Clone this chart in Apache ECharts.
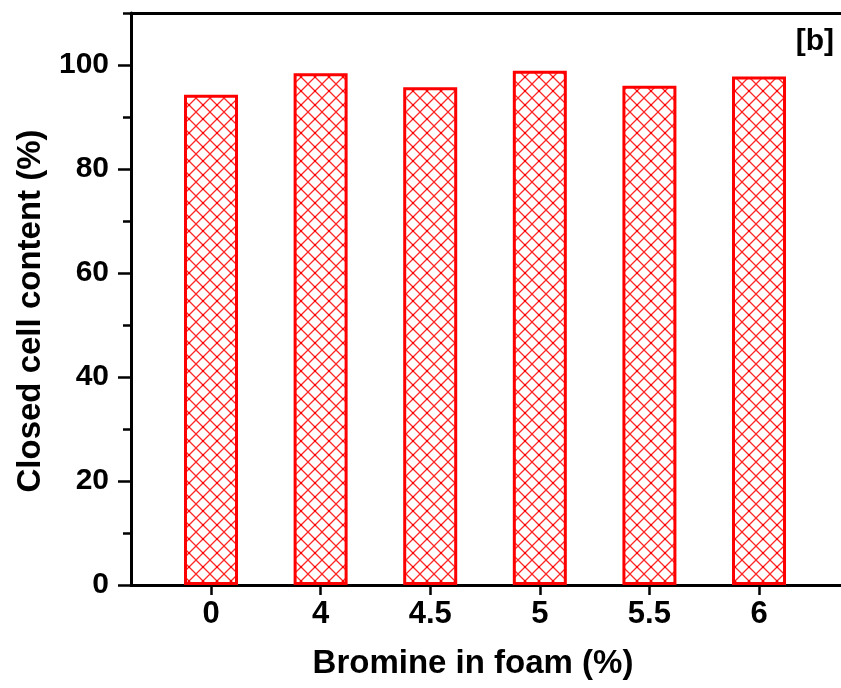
<!DOCTYPE html>
<html>
<head>
<meta charset="utf-8">
<script src="https://cdn.jsdelivr.net/npm/echarts@6/dist/echarts.min.js"></script>
<style>
  html, body { margin: 0; padding: 0; background: #fff; }
  #chart { width: 841px; height: 688px; }
</style>
</head>
<body>
<div id="chart"></div>
<script>
// Closed cell content of foams vs. bromine loading
const categories = ['0', '4', '4.5', '5', '5.5', '6'];
const closedCell = [94.3, 98.4, 95.7, 98.9, 96.0, 97.8];
const yMajorTicks = [0, 20, 40, 60, 80, 100];
const yMinorTicks = [10, 30, 50, 70, 90, 110];

const FONT = '"Liberation Sans", Arial, sans-serif';

// Red cross-hatch fill for the bars
function crossHatch() {
  const s = 14;
  const c = document.createElement('canvas');
  c.width = s; c.height = s;
  const g = c.getContext('2d');
  g.fillStyle = '#ffffff';
  g.fillRect(0, 0, s, s);
  g.strokeStyle = 'rgba(255,0,0,0.85)';
  g.lineWidth = 1.3;
  g.beginPath();
  g.moveTo(0, 0); g.lineTo(s, s);
  g.moveTo(s, 0); g.lineTo(0, s);
  g.stroke();
  g.fillStyle = '#ff0000';
  g.fillRect(s / 2 - 1, s / 2 - 1, 2, 2);
  return c;
}

const positions = categories.map((_, i) => i);
const xRange = { min: -0.73, max: 5.748 };
const yRange = { min: 0, max: 110 };

const chart = echarts.init(document.getElementById('chart'), null, { renderer: 'canvas' });

const axisLineStyle = { color: '#000', width: 3 };

chart.setOption({
  animation: false,
  backgroundColor: '#fff',
  grid: { left: 131, right: 0, top: 13, bottom: 103 },
  graphic: [{
    type: 'text', right: 7, top: 27,
    style: { text: '[b]', font: 'bold 30px ' + FONT, fill: '#000' }
  }],
  xAxis: [{
    type: 'value',
    min: xRange.min, max: xRange.max,
    name: 'Bromine in foam (%)',
    nameLocation: 'middle',
    nameGap: 62,
    nameTextStyle: { fontFamily: FONT, fontWeight: 'bold', fontSize: 33, color: '#000', padding: [0, 26, 0, 0] },
    axisLine: { show: true, onZero: false, lineStyle: axisLineStyle },
    axisTick: { show: true, customValues: positions, length: 10, lineStyle: { color: '#000', width: 2.5 } },
    axisLabel: {
      customValues: positions,
      formatter: v => categories[Math.round(v)],
      margin: 14,
      fontFamily: FONT, fontWeight: 'bold', fontSize: 31, color: '#000'
    },
    splitLine: { show: false }
  }, {
    // top frame line
    type: 'value',
    position: 'top',
    min: xRange.min, max: xRange.max,
    axisLine: { show: true, onZero: false, lineStyle: axisLineStyle },
    axisTick: { show: false },
    axisLabel: { show: false },
    splitLine: { show: false }
  }],
  yAxis: [{
    type: 'value',
    min: yRange.min, max: yRange.max,
    name: 'Closed cell content (%)',
    nameLocation: 'middle',
    nameGap: 84,
    nameTextStyle: { fontFamily: FONT, fontWeight: 'bold', fontSize: 33, color: '#000', padding: [0, 24, 0, 0] },
    axisLine: { show: true, onZero: false, lineStyle: axisLineStyle },
    axisTick: { show: true, customValues: yMajorTicks, length: 13, lineStyle: { color: '#000', width: 2.5 } },
    axisLabel: {
      customValues: yMajorTicks,
      margin: 22,
      fontFamily: FONT, fontWeight: 'bold', fontSize: 30, color: '#000'
    },
    splitLine: { show: false }
  }, {
    // minor ticks
    type: 'value',
    position: 'left',
    min: yRange.min, max: yRange.max,
    axisLine: { show: false, onZero: false },
    axisTick: { show: true, customValues: yMinorTicks, length: 8, lineStyle: { color: '#000', width: 2.5 } },
    axisLabel: { show: false },
    splitLine: { show: false }
  }],
  series: [{
    type: 'bar',
    xAxisIndex: 0,
    yAxisIndex: 0,
    barWidth: 54,
    data: closedCell.map((v, i) => [positions[i], v]),
    itemStyle: {
      color: { image: crossHatch(), repeat: 'repeat' },
      borderColor: '#ff0000',
      borderWidth: 3
    }
  }]
});
</script>
</body>
</html>
